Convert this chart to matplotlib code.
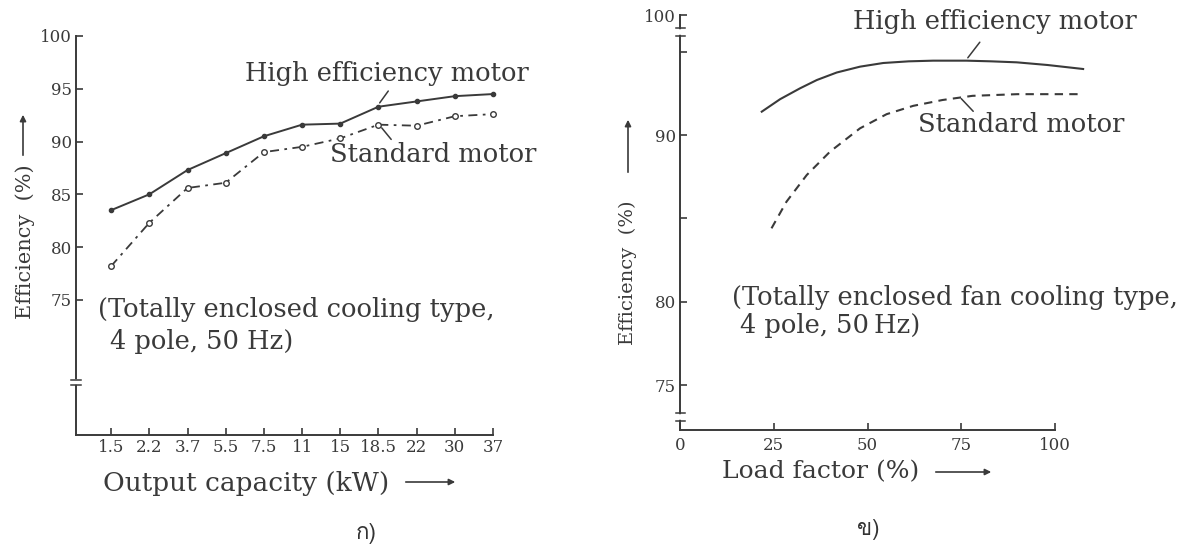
import matplotlib
matplotlib.use("Agg")
import matplotlib.pyplot as plt
from matplotlib import font_manager, ft2font
from matplotlib.patches import FancyArrowPatch

plt.rcParams['font.family'] = ['DejaVu Serif', 'DejaVu Sans']

INK = "#3a3a3a"
W, H = 1191, 549

# left chart: efficiency vs output capacity
capacity = ["1.5", "2.2", "3.7", "5.5", "7.5", "11", "15", "18.5", "22", "30", "37"]
high_eff = [83.5, 85.0, 87.3, 88.9, 90.5, 91.6, 91.7, 93.3, 93.8, 94.3, 94.5]
std_eff = [78.2, 82.3, 85.6, 86.1, 89.0, 89.5, 90.3, 91.6, 91.5, 92.4, 92.6]

# right chart: efficiency vs load factor
load_hi = [21.8, 26.7, 32.0, 36.5, 41.8, 48.0, 54.2, 61.0, 67.5, 76.4, 83.0, 89.8, 98.0, 107.5]
eff_hi = [91.4, 92.15, 92.8, 93.3, 93.75, 94.1, 94.32, 94.42, 94.46, 94.46, 94.42, 94.36, 94.2, 93.96]
load_std = [24.4, 28.4, 33.8, 40.0, 48.0, 55.1, 62.2, 70.0, 78.0, 90.0, 107.0]
eff_std = [84.4, 86.0, 87.6, 89.0, 90.4, 91.25, 91.75, 92.1, 92.35, 92.45, 92.45]


# find an installed family that can draw the Thai captions
thai_family = None
for f in font_manager.fontManager.ttflist:
    try:
        cmap = ft2font.FT2Font(f.fname).get_charmap()
    except Exception:
        continue
    if 0x0E01 in cmap and 0x0E02 in cmap:
        thai_family = f.name
        break


def fp(x, y):
    # pixel (from top-left) -> figure fraction
    return (x / W, 1 - y / H)


def box(l, t, r, b):
    return [l / W, 1 - b / H, (r - l) / W, (b - t) / H]


def style_axes(ax):
    for s in ("top", "right"):
        ax.spines[s].set_visible(False)
    for s in ("left", "bottom"):
        ax.spines[s].set_color(INK)
        ax.spines[s].set_linewidth(1.4)
    ax.tick_params(direction="in", length=5, width=1.2, colors=INK, labelsize=12, pad=3)


def ybreak(ax, y):
    tr = ax.get_yaxis_transform()
    ax.plot([-0.008, 0.008], [y, y], transform=tr, color="white", lw=4, clip_on=False, zorder=5)
    for dy in (-0.25, 0.25):
        ax.plot([-0.012, 0.012], [y + dy, y + dy], transform=tr, color=INK, lw=1.1,
                clip_on=False, zorder=6)


fig = plt.figure(figsize=(W / 100, H / 100), dpi=100)

# ---- left panel ----
ax1 = fig.add_axes(box(76, 36, 493, 435))
style_axes(ax1)
xs = list(range(len(capacity)))
ax1.plot(xs, high_eff, color=INK, lw=1.4, marker="o", ms=3, mfc=INK, mec=INK, clip_on=False)
ax1.plot(xs, std_eff, color=INK, lw=1.3, ls=(0, (5, 3, 1.5, 3)), marker="o", ms=4,
         mfc="white", mec=INK, mew=1.0, clip_on=False)
ax1.set_xlim(-0.92, 10)
ax1.set_ylim(62.2, 100)
ax1.set_xticks(xs)
ax1.set_xticklabels(capacity)
ax1.set_yticks([75, 80, 85, 90, 95, 100])
ybreak(ax1, 67.2)

ax1.annotate("", xy=(6.99, 93.45), xytext=(7.3, 95.0),
             arrowprops=dict(arrowstyle="-", color=INK, lw=1.1))
ax1.annotate("", xy=(7.04, 91.5), xytext=(7.38, 90.0),
             arrowprops=dict(arrowstyle="-", color=INK, lw=1.1))

tk = dict(color=INK, fontsize=18.5, va="center", ha="left")
fig.text(*fp(245, 73), "High efficiency motor", **tk)
fig.text(*fp(330, 155), "Standard motor", **tk)
fig.text(*fp(98, 310), "(Totally enclosed cooling type,", **tk)
fig.text(*fp(110, 342), "4 pole, 50 Hz)", **tk)

fig.text(*fp(25, 242), "Efficiency  (%)", rotation=90, color=INK, fontsize=15,
         ha="center", va="center")
fig.text(*fp(103, 483), "Output capacity (kW)", color=INK, fontsize=19,
         ha="left", va="center")

# ---- right panel ----
ax2 = fig.add_axes(box(680, 15, 1055, 430))
style_axes(ax2)
ax2.plot(load_hi, eff_hi, color=INK, lw=1.5, clip_on=False)
ax2.plot(load_std, eff_std, color=INK, lw=1.5, ls=(0, (4, 3)), clip_on=False)
ax2.set_xlim(0, 100)
ax2.set_ylim(72.3, 97.2)
ax2.set_xticks([0, 25, 50, 75, 100])
ax2.set_yticks([75, 80, 85, 90, 95, 97.2])
ax2.set_yticklabels(["75", "80", "", "90", "", "100"])
ax2.tick_params(axis="x", pad=5)
ybreak(ax2, 96.2)
ybreak(ax2, 73.1)

ax2.annotate("", xy=(76.3, 94.5), xytext=(80.4, 95.7),
             arrowprops=dict(arrowstyle="-", color=INK, lw=1.1))
ax2.annotate("", xy=(74.5, 92.3), xytext=(78.7, 91.3),
             arrowprops=dict(arrowstyle="-", color=INK, lw=1.1))

fig.text(*fp(853, 22), "High efficiency motor", **tk)
fig.text(*fp(918, 125), "Standard motor", **tk)
fig.text(*fp(732, 297), "(Totally enclosed fan cooling type,", **tk)
fig.text(*fp(740, 325), "4 pole, 50\u2009Hz)", **tk)

fig.text(*fp(628, 273), "Efficiency  (%)", rotation=90, color=INK, fontsize=14,
         ha="center", va="center")
fig.text(*fp(722, 472), "Load factor (%)", color=INK, fontsize=18,
         ha="left", va="center")

# arrows beside axis labels
arr = dict(arrowstyle="-|>", color=INK, lw=1.2, mutation_scale=9)
for (x0, y0), (x1, y1) in [((23, 158), (23, 112)), ((628, 175), (628, 117)),
                           ((403, 482), (458, 482)), ((933, 472), (994, 472))]:
    fig.add_artist(FancyArrowPatch(fp(x0, y0), fp(x1, y1), transform=fig.transFigure, **arr))

# sub-figure captions
cap_fams = ([thai_family] if thai_family else []) + ["DejaVu Sans", "Noto Sans"]
cap = dict(fontsize=16, color="#333333", ha="center", va="center", family=cap_fams)
fig.text(*fp(366, 533), "ก)", **cap)
fig.text(*fp(868, 530), "ข)", **cap)

fig.savefig("out.png", dpi=100)
